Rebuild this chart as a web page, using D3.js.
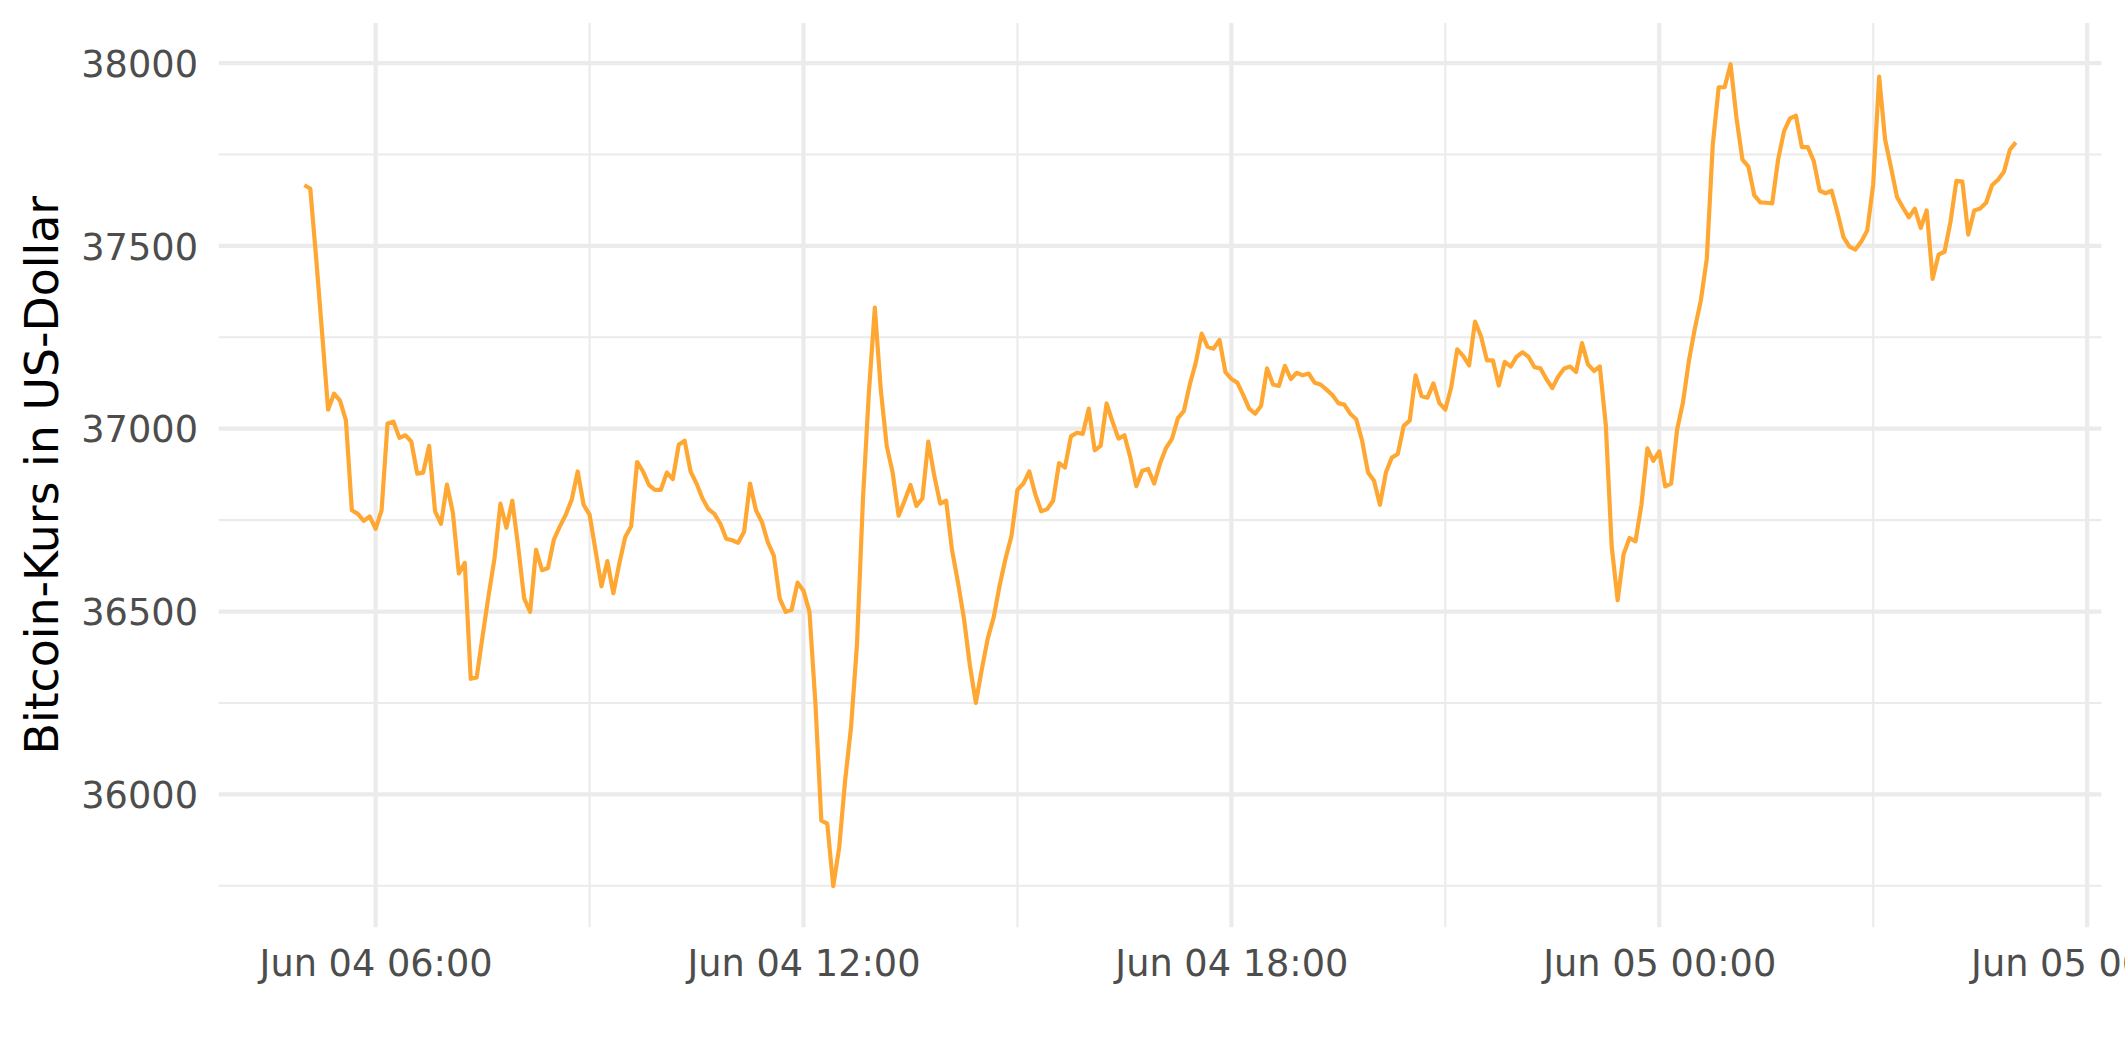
<!DOCTYPE html>
<html>
<head>
<meta charset="utf-8">
<script src="https://cdn.jsdelivr.net/npm/d3@7"></script>
<style>
  html, body { margin: 0; padding: 0; background: #ffffff; }
  svg { display: block; }
</style>
</head>
<body>
<svg id="chart" width="2125" height="1062"></svg>
<script>
// ---- Data: Bitcoin price (USD), 5-minute intervals ----
const startTime = Date.UTC(2021, 5, 4, 5, 0);   // Jun 04 05:00
const intervalMinutes = 5;
const prices = [
  37666, 37657, 37465, 37260, 37052, 37096, 37077, 37023, 36777, 36767,
  36748, 36760, 36726, 36777, 37014, 37019, 36975, 36982, 36965, 36877,
  36880, 36953, 36774, 36740, 36847, 36770, 36604, 36633, 36316, 36320,
  36433, 36543, 36645, 36795, 36729, 36803, 36675, 36535, 36499, 36669,
  36613, 36619, 36697, 36733, 36765, 36806, 36883, 36792, 36765, 36667,
  36569, 36638, 36550, 36631, 36704, 36733, 36909, 36883, 36846, 36833,
  36833, 36880, 36862, 36956, 36967, 36883, 36850, 36809, 36780, 36767,
  36740, 36699, 36695, 36688, 36718, 36850, 36777, 36745, 36689, 36653,
  36535, 36499, 36505, 36579, 36557, 36499, 36250, 35928, 35920, 35749,
  35854, 36037, 36184, 36411, 36806, 37099, 37331, 37107, 36953, 36880,
  36762, 36803, 36846, 36789, 36809, 36965, 36872, 36795, 36803, 36667,
  36579, 36481, 36352, 36250, 36342, 36426, 36484, 36571, 36645, 36707,
  36833, 36850, 36883, 36821, 36774, 36780, 36803, 36906, 36894, 36979,
  36989, 36986, 37055, 36941, 36953, 37069, 37019, 36973, 36982, 36921,
  36843, 36885, 36890, 36850, 36905, 36947, 36972, 37029, 37048, 37121,
  37180, 37260, 37224, 37219, 37243, 37155, 37136, 37126, 37092, 37055,
  37041, 37063, 37165, 37121, 37117, 37172, 37136, 37153, 37146, 37151,
  37126, 37121, 37107, 37092, 37070, 37066, 37041, 37026, 36967, 36880,
  36858, 36792, 36880, 36921, 36931, 37008, 37022, 37146, 37089, 37085,
  37124, 37070, 37052, 37114, 37217, 37199, 37173, 37293, 37253, 37187,
  37187, 37118, 37183, 37170, 37197, 37209, 37197, 37168, 37165, 37136,
  37111, 37143, 37165, 37170, 37155, 37234, 37176, 37158, 37170, 37011,
  36677, 36531, 36657, 36701, 36692, 36792, 36946, 36912, 36938, 36842,
  36850, 36997, 37073, 37187, 37275, 37351, 37465, 37776, 37934, 37934,
  37997, 37849, 37736, 37717, 37638, 37619, 37618, 37616, 37736, 37814,
  37849, 37856, 37770, 37770, 37732, 37651, 37644, 37651, 37590, 37524,
  37498, 37490, 37512, 37542, 37668, 37963, 37791, 37714, 37634, 37605,
  37578, 37602, 37549, 37597, 37410, 37476, 37484, 37565, 37678, 37676,
  37531, 37597, 37602, 37618, 37666, 37681, 37703, 37763, 37783
];
const yMajorStep = 500;
const xMajorHours = 6;
const yAxisTitle = "Bitcoin-Kurs in US-Dollar";

const data = prices.map((p, i) => ({
  t: new Date(startTime + i * intervalMinutes * 60000),
  v: p
}));

// ---- Layout ----
const W = 2125, H = 1062;
const panel = { left: 218.75, right: 2101.4, top: 23.1, bottom: 927.2 };

const svg = d3.select("#chart");
svg.append("rect").attr("width", W).attr("height", H).attr("fill", "#ffffff");

// ggplot-like 5% expansion
const tExt = d3.extent(data, d => d.t);
const tSpan = tExt[1] - tExt[0];
const x = d3.scaleUtc()
  .domain([new Date(+tExt[0] - 0.05 * tSpan), new Date(+tExt[1] + 0.05 * tSpan)])
  .range([panel.left, panel.right]);

const vExt = d3.extent(data, d => d.v);
const vSpan = vExt[1] - vExt[0];
const y = d3.scaleLinear()
  .domain([vExt[0] - 0.05 * vSpan, vExt[1] + 0.05 * vSpan])
  .range([panel.bottom, panel.top]);

// ---- Gridlines ----
const grid = svg.append("g");
const [y0, y1] = y.domain();
const yMajor = d3.range(Math.ceil(y0 / yMajorStep) * yMajorStep, y1 + 1e-9, yMajorStep);
const yMinor = d3.range(Math.ceil((y0 - yMajorStep / 2) / yMajorStep) * yMajorStep + yMajorStep / 2, y1, yMajorStep)
  .filter(v => v >= y0 && v <= y1);

const xMajor = d3.utcHour.every(xMajorHours).range(x.domain()[0], x.domain()[1]);
const xMinor = d3.utcHour.every(xMajorHours / 2).range(x.domain()[0], x.domain()[1])
  .filter(d => d.getUTCHours() % xMajorHours !== 0);

grid.selectAll(".ymin").data(yMinor).join("line")
  .attr("x1", panel.left).attr("x2", panel.right)
  .attr("y1", d => y(d)).attr("y2", d => y(d))
  .attr("stroke", "#EBEBEB").attr("stroke-width", 2.1);
grid.selectAll(".xmin").data(xMinor).join("line")
  .attr("y1", panel.top).attr("y2", panel.bottom)
  .attr("x1", d => x(d)).attr("x2", d => x(d))
  .attr("stroke", "#EBEBEB").attr("stroke-width", 2.1);
grid.selectAll(".ymaj").data(yMajor).join("line")
  .attr("x1", panel.left).attr("x2", panel.right)
  .attr("y1", d => y(d)).attr("y2", d => y(d))
  .attr("stroke", "#EBEBEB").attr("stroke-width", 4.2);
grid.selectAll(".xmaj").data(xMajor).join("line")
  .attr("y1", panel.top).attr("y2", panel.bottom)
  .attr("x1", d => x(d)).attr("x2", d => x(d))
  .attr("stroke", "#EBEBEB").attr("stroke-width", 4.2);

// ---- Line ----
const line = d3.line().x(d => x(d.t)).y(d => y(d.v));
svg.append("path")
  .datum(data)
  .attr("d", line)
  .attr("fill", "none")
  .attr("stroke", "#FFA733")
  .attr("stroke-width", 4.2)
  .attr("stroke-linejoin", "round")
  .attr("stroke-linecap", "butt");

// ---- Axes ----
const fmt = d3.utcFormat("%b %d %H:%M");
const xAxis = d3.axisBottom(x).tickValues(xMajor).tickFormat(fmt).tickSize(0).tickPadding(22.7);
const gx = svg.append("g").attr("transform", `translate(0,${panel.bottom})`).call(xAxis);
gx.select(".domain").remove();
gx.selectAll("text")
  .attr("font-family", "DejaVu Sans")
  .attr("font-size", 36.7)
  .attr("fill", "#4D4D4D");

const yAxis = d3.axisLeft(y).tickValues(yMajor).tickFormat(d3.format("d")).tickSize(0).tickPadding(20.75);
const gy = svg.append("g").attr("transform", `translate(${panel.left},0)`).call(yAxis);
gy.select(".domain").remove();
gy.selectAll("text")
  .attr("font-family", "DejaVu Sans")
  .attr("font-size", 36.7)
  .attr("fill", "#4D4D4D")
  .attr("dy", "0.36em");

// ---- Axis title ----
svg.append("text")
  .attr("transform", `translate(57.5,${(panel.top + panel.bottom) / 2}) rotate(-90)`)
  .attr("text-anchor", "middle")
  .attr("font-family", "DejaVu Sans")
  .attr("font-size", 45.8)
  .attr("fill", "#000000")
  .text(yAxisTitle);
</script>
</body>
</html>
